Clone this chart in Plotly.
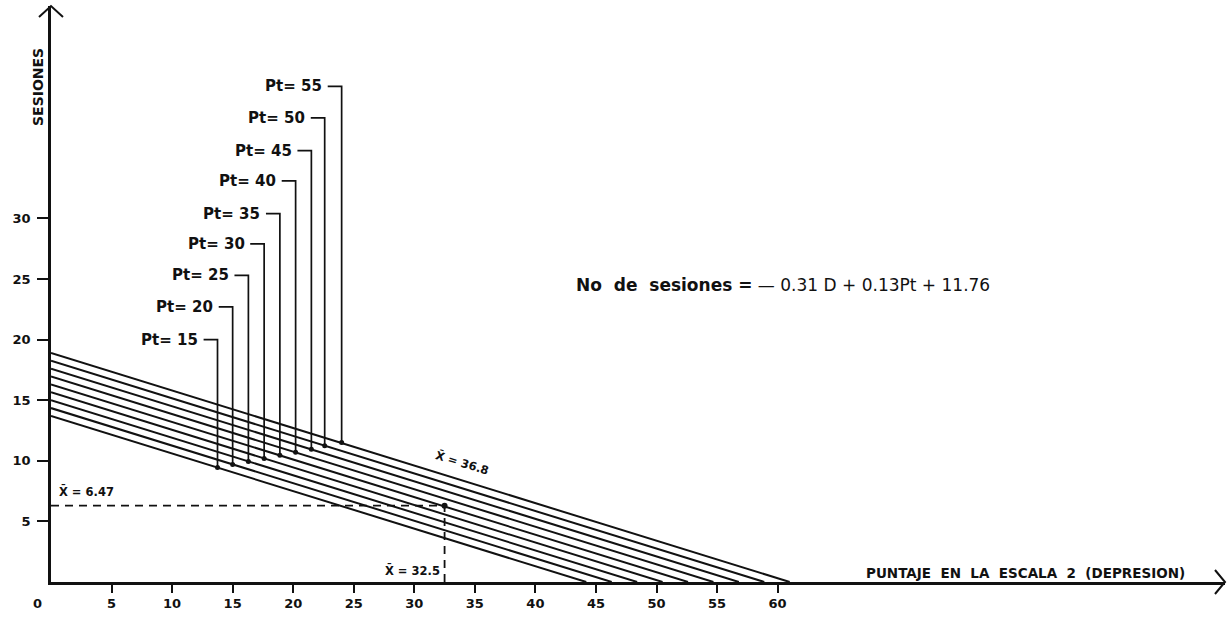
import plotly.graph_objects as go

# ---- data ----
pt_values = [15, 20, 25, 30, 35, 40, 45, 50, 55]
line_y_start = [13.7, 14.35, 15.0, 15.65, 16.3, 16.95, 17.6, 18.25, 18.9]   # sessions at D = 0
line_x_end = [44.2, 46.3, 48.4, 50.5, 52.6, 54.7, 56.8, 58.9, 61.0]          # D where sessions = 0
marker_x = [13.75, 15.0, 16.3, 17.6, 18.9, 20.2, 21.5, 22.6, 24.0]
marker_bottom = [9.45, 9.7, 9.95, 10.2, 10.45, 10.7, 10.95, 11.25, 11.5]
marker_top = [20.0, 22.7, 25.3, 27.9, 30.4, 33.1, 35.6, 38.3, 40.9]
mean_x = 32.5
mean_y = 6.3
x_ticks = [5, 10, 15, 20, 25, 30, 35, 40, 45, 50, 55, 60]
y_ticks = [5, 10, 15, 20, 25, 30]

FONT = "DejaVu Sans"
BLACK = "#111111"
W, H = 1228, 621
ML, MR, MT, MB = 51, 3, 6, 39
PW, PH = W - ML - MR, H - MT - MB
XR = [0, PW / 12.11]
YR = [0, PH / 12.12]
HOOK = 1.15


def px(xp):
    return (xp - ML) / PW


def py(yp):
    return (H - MB - yp) / PH


fig = go.Figure()

for y0, x1 in zip(line_y_start, line_x_end):
    fig.add_trace(go.Scatter(x=[0, x1], y=[y0, 0], mode="lines",
                             line=dict(color=BLACK, width=2), hoverinfo="skip"))

annotations = []
for pt, vx, vb, vt in zip(pt_values, marker_x, marker_bottom, marker_top):
    fig.add_trace(go.Scatter(x=[vx, vx, vx - HOOK], y=[vb, vt, vt], mode="lines",
                             line=dict(color=BLACK, width=1.7), hoverinfo="skip"))
    fig.add_trace(go.Scatter(x=[vx], y=[vb], mode="markers",
                             marker=dict(color=BLACK, size=5), hoverinfo="skip"))
    annotations.append(dict(x=vx - HOOK - 0.3, y=vt, xref="x", yref="y",
                            text=f"<b>Pt= {pt}</b>", showarrow=False, xanchor="right",
                            yanchor="middle", font=dict(family=FONT, size=15, color=BLACK)))

# mean dashed lines
fig.add_trace(go.Scatter(x=[0, mean_x, mean_x], y=[mean_y, mean_y, 0], mode="lines",
                         line=dict(color=BLACK, width=1.8, dash="8px,6px"), hoverinfo="skip"))
fig.add_trace(go.Scatter(x=[mean_x], y=[mean_y], mode="markers",
                         marker=dict(color=BLACK, size=6), hoverinfo="skip"))

annotations += [
    dict(x=0.5, y=mean_y + 0.35, xref="x", yref="y", text="<b>X̄ = 6.47</b>", showarrow=False,
         xanchor="left", yanchor="bottom", font=dict(family=FONT, size=11.5, color=BLACK)),
    dict(x=mean_x - 0.2, y=0.15, xref="x", yref="y", text="<b>X̄ = 32.5</b>", showarrow=False,
         xanchor="right", yanchor="bottom", font=dict(family=FONT, size=11.5, color=BLACK)),
    dict(x=34.0, y=9.9, xref="x", yref="y", text="<b>X̄ = 36.8</b>", showarrow=False,
         textangle=17, font=dict(family=FONT, size=11.5, color=BLACK)),
    dict(x=43.2, y=24.5, xref="x", yref="y",
         text="<b>No  de  sesiones =</b> — 0.31 D + 0.13Pt + 11.76", showarrow=False,
         xanchor="left", yanchor="middle", font=dict(family=FONT, size=17, color=BLACK)),
    dict(x=px(37), y=py(603), xref="paper", yref="paper", text="<b>0</b>", showarrow=False,
         xanchor="center", yanchor="middle", font=dict(family=FONT, size=13, color=BLACK)),
    dict(x=px(38), y=py(87), xref="paper", yref="paper", text="<b>SESIONES</b>", showarrow=False,
         textangle=-90, xanchor="center", yanchor="middle",
         font=dict(family=FONT, size=14, color=BLACK)),
    dict(x=px(1025), y=py(573), xref="paper", yref="paper",
         text="<b>PUNTAJE  EN  LA  ESCALA  2  (DEPRESION)</b>",
         showarrow=False, xanchor="center", yanchor="middle",
         font=dict(family=FONT, size=13.5, color=BLACK)),
]

ax = 10 / PW
ay = 12 / PH
bx = 12 / PW
by = 11 / PH
shapes = [
    dict(type="path", xref="paper", yref="paper",
         path=f"M {1-ax},{ay} L 1,0 L {1-ax},{-ay}", line=dict(color=BLACK, width=2)),
    dict(type="path", xref="paper", yref="paper",
         path=f"M {-bx},{1-by} L 0,1 L {bx},{1-by}", line=dict(color=BLACK, width=2)),
]

fig.update_layout(
    width=W, height=H, autosize=False,
    margin=dict(l=ML, r=MR, t=MT, b=MB, pad=0),
    paper_bgcolor="white", plot_bgcolor="white",
    showlegend=False,
    annotations=annotations, shapes=shapes,
    xaxis=dict(range=XR, showgrid=False, zeroline=False, showline=True, linecolor=BLACK,
               linewidth=2.5, ticks="outside", ticklen=8, tickwidth=2, tickcolor=BLACK,
               tickvals=x_ticks, ticktext=[f"<b>{v}</b>" for v in x_ticks],
               tickfont=dict(family=FONT, size=13, color=BLACK)),
    yaxis=dict(range=YR, showgrid=False, zeroline=False, showline=True, linecolor=BLACK,
               linewidth=2.5, ticks="outside", ticklen=11, tickwidth=2, tickcolor=BLACK,
               tickvals=y_ticks, ticktext=[f"<b>{v}</b>" for v in y_ticks],
               ticklabelstandoff=4,
               tickfont=dict(family=FONT, size=13, color=BLACK)),
)

fig.write_html("out.html")
